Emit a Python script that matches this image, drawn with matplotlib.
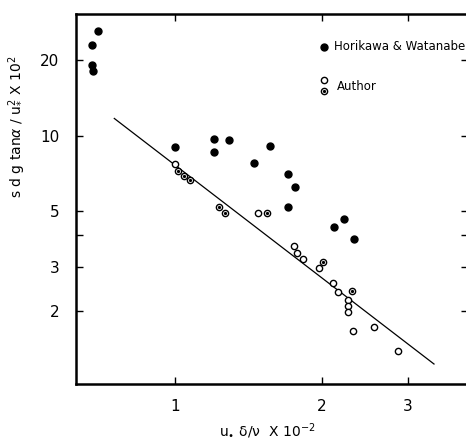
import matplotlib
matplotlib.use("Agg")
import matplotlib.pyplot as plt
from matplotlib.ticker import FixedLocator, NullLocator

# Horikawa & Watanabe (filled)
hw_x = [0.675, 0.675, 0.679, 0.695, 1.00, 1.202, 1.202, 1.291, 1.56, 1.453,
        1.706, 1.756, 1.706, 2.111, 2.213, 2.321]
hw_y = [23.0, 19.1, 18.1, 26.1, 9.0, 9.7, 8.6, 9.6, 9.1, 7.8,
        7.0, 6.24, 5.19, 4.32, 4.65, 3.87]

# Author, plain open circles
ao_x = [1.00, 1.481, 1.747, 1.780, 1.823, 1.966, 2.101, 2.151, 2.256, 2.256,
        2.256, 2.309, 2.551, 2.857]
ao_y = [7.70, 4.91, 3.63, 3.40, 3.22, 2.97, 2.59, 2.38, 2.21, 2.09,
        1.98, 1.665, 1.727, 1.386]

# Author, dotted circles
ad_x = [1.014, 1.043, 1.073, 1.231, 1.267, 1.545, 2.004, 2.298]
ad_y = [7.22, 6.90, 6.65, 5.19, 4.91, 4.91, 3.14, 2.40]

# Fitted line
line_x = [0.75, 3.39]
line_y = [11.7, 1.23]

x_ticks = [1, 2, 3]
x_ticklabels = ["1", "2", "3"]
y_ticks = [2, 3, 4, 5, 10, 20]
y_ticklabels = ["2", "3", "", "5", "10", "20"]

fig = plt.figure(figsize=(4.66, 4.44), dpi=100)
ax = fig.add_axes([76/466, 60/444, 392/466, 370/444])
ax.set_xscale("log")
ax.set_yscale("log")
ax.set_xlim(0.626, 3.98)
ax.set_ylim(1.024, 30.5)

ax.plot(line_x, line_y, color="black", lw=0.9)
ax.plot(hw_x, hw_y, "o", color="black", ms=5.0, ls="none")
ax.plot(ao_x, ao_y, "o", mfc="white", mec="black", mew=1.0, ms=4.5, ls="none")
ax.plot(ad_x, ad_y, "o", mfc="white", mec="black", mew=1.0, ms=4.5, ls="none")
ax.plot(ad_x, ad_y, "o", color="black", ms=1.3, ls="none")

ax.xaxis.set_major_locator(FixedLocator(x_ticks))
ax.xaxis.set_minor_locator(NullLocator())
ax.set_xticklabels(x_ticklabels)
ax.yaxis.set_major_locator(FixedLocator(y_ticks))
ax.yaxis.set_minor_locator(NullLocator())
ax.set_yticklabels(y_ticklabels)

ax.tick_params(axis="both", which="major", direction="in", length=5, width=1.0,
               labelsize=11, top=True, right=True)
ax.tick_params(axis="x", pad=11)
ax.tick_params(axis="y", pad=12)

for s in ["left", "bottom", "top"]:
    ax.spines[s].set_linewidth(1.8)
ax.spines["right"].set_visible(False)

ax.set_xlabel(r"u$_{\bullet}$ δ/ν  X 10$^{-2}$", fontsize=10)
ax.xaxis.set_label_coords(0.488, -0.103)
ax.set_ylabel(r"s d g tan$\alpha$ / u$_{*}^{2}$ X 10$^{2}$", fontsize=10)
ax.yaxis.set_label_coords(-0.125, 0.695)

# legend
ax.plot([0.632], [0.911], "o", color="black", ms=5.0, transform=ax.transAxes, clip_on=False)
ax.text(0.657, 0.911, "Horikawa & Watanabe", transform=ax.transAxes, fontsize=8.5,
        va="center", ha="left")
ax.plot([0.632], [0.822], "o", mfc="white", mec="black", mew=1.0, ms=4.5,
        transform=ax.transAxes)
ax.plot([0.632], [0.792], "o", mfc="white", mec="black", mew=1.0, ms=4.5,
        transform=ax.transAxes)
ax.plot([0.632], [0.792], "o", color="black", ms=1.3, transform=ax.transAxes)
ax.text(0.665, 0.805, "Author", transform=ax.transAxes, fontsize=8.5,
        va="center", ha="left")

fig.savefig("out.png", dpi=100)
